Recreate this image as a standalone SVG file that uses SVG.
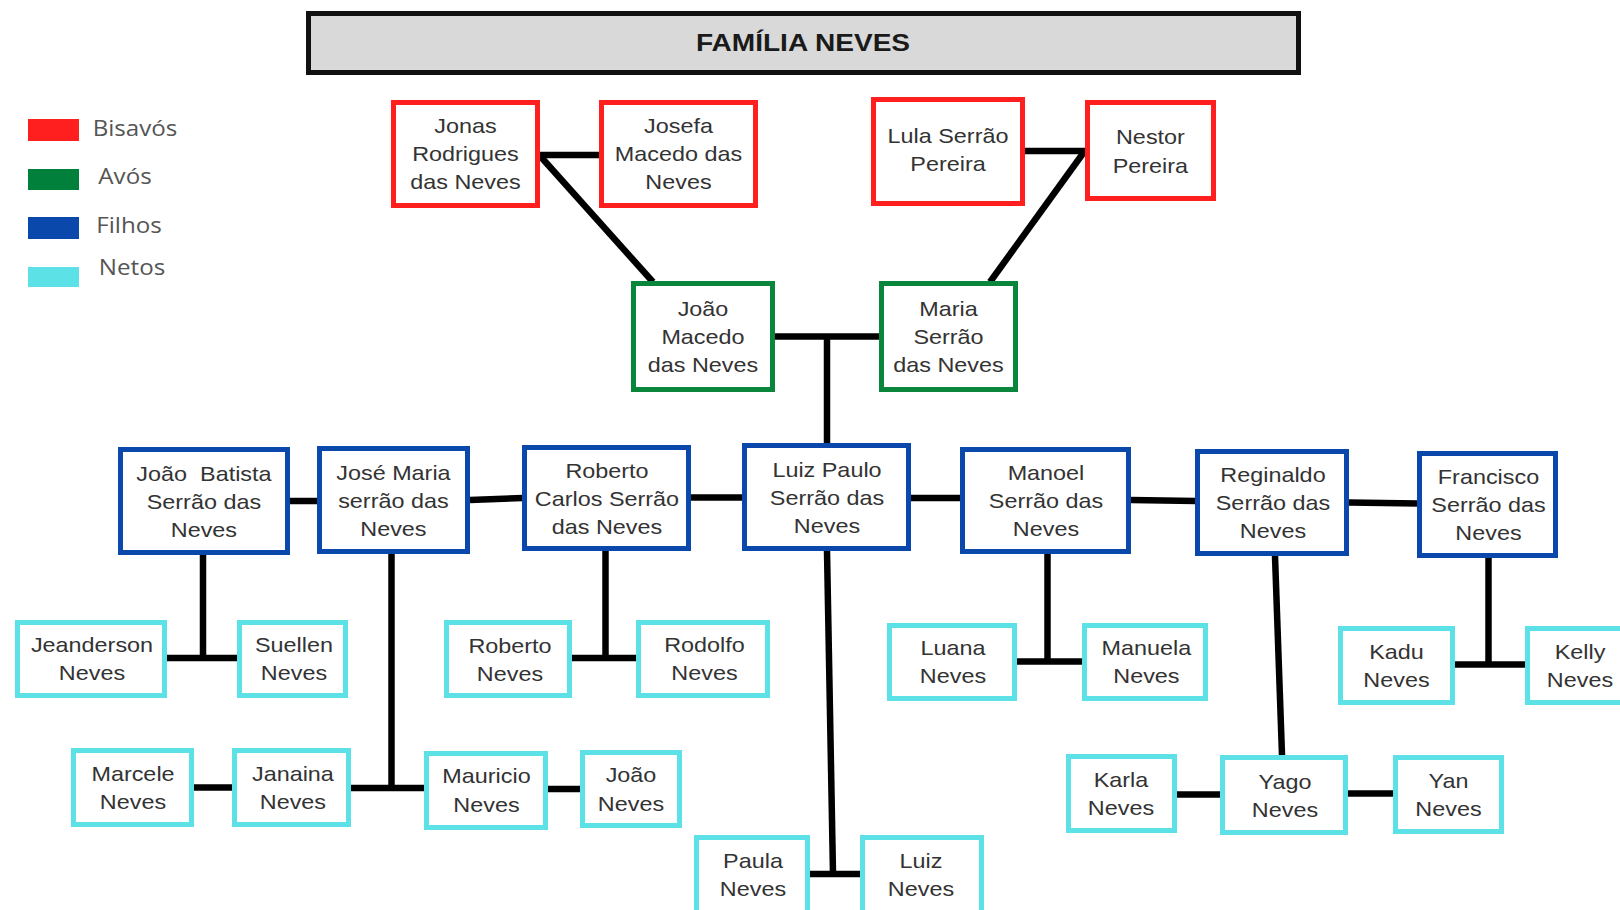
<svg xmlns="http://www.w3.org/2000/svg" width="1620" height="910" viewBox="0 0 1620 910">
<style>
.box{fill:#fff;stroke-width:5}
.red{stroke:#ff1f1f}
.green{stroke:#0a853c}
.blue{stroke:#0a48ab}
.cyan{stroke:#5ce1e6}
.t{font-family:"Liberation Sans",Arial,sans-serif;font-size:20px;fill:#333;text-anchor:middle;transform-box:fill-box;transform-origin:center;transform:scaleX(1.17)}
.title{font-family:"Liberation Sans",Arial,sans-serif;font-size:24px;font-weight:bold;fill:#1a1a1a;text-anchor:middle;transform-box:fill-box;transform-origin:center;transform:scaleX(1.17)}
.lg{font-family:"Open Sans","DejaVu Sans",sans-serif;font-size:21px;fill:#555;text-anchor:middle;transform-box:fill-box;transform-origin:center;transform:scaleX(1.15)}
.conn path{fill:none;stroke:#000;stroke-width:6.5}
</style>
<rect width="1620" height="910" fill="#fff"/>
<g id="title">
<rect x="308.5" y="13.5" width="990" height="59" fill="#d9d9d9" stroke="#111" stroke-width="5"/>
<text class="title" x="803" y="51">FAMÍLIA NEVES</text>
</g>
<g id="legend">
<rect x="28" y="119" width="51" height="22" fill="#ff1f1f"/>
<rect x="28" y="169" width="51" height="21" fill="#00803a"/>
<rect x="28" y="217" width="51" height="22" fill="#0a48ab"/>
<rect x="28" y="267" width="51" height="20" fill="#5ce1e6"/>
<text class="lg" x="135" y="136">Bisavós</text>
<text class="lg" x="125" y="184">Avós</text>
<text class="lg" x="129" y="233">Filhos</text>
<text class="lg" x="132" y="275">Netos</text>
</g>
<g class="conn" id="connectors">
<path d="M540,155 H601"/>
<path d="M541,157 L653,282"/>
<path d="M1025,151 H1086"/>
<path d="M1084,152 L990,282"/>
<path d="M775,336.5 H880"/>
<path d="M827,336.5 V444"/>
<path d="M290,501 H318"/>
<path d="M470,500 L523,498"/>
<path d="M691,497.5 H743"/>
<path d="M911,498 H961"/>
<path d="M1131,500 L1196,501"/>
<path d="M1349,502.5 L1418,503.5"/>
<path d="M203,555 V658"/>
<path d="M167,658 H238"/>
<path d="M391.5,554 V788"/>
<path d="M351,788 H425"/>
<path d="M194,787.5 H233"/>
<path d="M548,789 H581"/>
<path d="M605.5,551 V658"/>
<path d="M572,658 H637"/>
<path d="M827,551 L833,874"/>
<path d="M810,874 H861"/>
<path d="M1047.5,554 V661.5"/>
<path d="M1017,661.5 H1083"/>
<path d="M1275,556 L1282,755"/>
<path d="M1177,794.5 H1221"/>
<path d="M1348,793.5 H1394"/>
<path d="M1488.5,558 V664.5"/>
<path d="M1455,664.5 H1526"/>
</g>
<g id="jonas"><rect class="box red" x="393.5" y="102.5" width="144" height="103"/><text class="t"><tspan x="465.5" y="133.5">Jonas</tspan><tspan x="465.5" y="161.5">Rodrigues</tspan><tspan x="465.5" y="189.5">das Neves</tspan></text></g>
<g id="josefa"><rect class="box red" x="601.5" y="102.5" width="154" height="103"/><text class="t"><tspan x="678.5" y="133.5">Josefa</tspan><tspan x="678.5" y="161.5">Macedo das</tspan><tspan x="678.5" y="189.5">Neves</tspan></text></g>
<g id="lula"><rect class="box red" x="873.5" y="99.5" width="149" height="104"/><text class="t"><tspan x="948" y="143">Lula Serrão</tspan><tspan x="948" y="171.5">Pereira</tspan></text></g>
<g id="nestor"><rect class="box red" x="1087.5" y="102.5" width="126" height="96"/><text class="t"><tspan x="1150.5" y="144.5">Nestor</tspan><tspan x="1150.5" y="173">Pereira</tspan></text></g>
<g id="joao-macedo"><rect class="box green" x="633.5" y="283.5" width="139" height="106"/><text class="t"><tspan x="703" y="316">João</tspan><tspan x="703" y="344">Macedo</tspan><tspan x="703" y="372">das Neves</tspan></text></g>
<g id="maria"><rect class="box green" x="881.5" y="283.5" width="134" height="106"/><text class="t"><tspan x="948.5" y="316">Maria</tspan><tspan x="948.5" y="344">Serrão</tspan><tspan x="948.5" y="372">das Neves</tspan></text></g>
<g id="joao-batista"><rect class="box blue" x="120.5" y="449.5" width="167" height="103"/><text class="t" xml:space="preserve"><tspan x="204" y="481">João  Batista</tspan><tspan x="204" y="509">Serrão das</tspan><tspan x="204" y="537">Neves</tspan></text></g>
<g id="jose-maria"><rect class="box blue" x="319.5" y="448.5" width="148" height="103"/><text class="t"><tspan x="393.5" y="480">José Maria</tspan><tspan x="393.5" y="508">serrão das</tspan><tspan x="393.5" y="536">Neves</tspan></text></g>
<g id="roberto-carlos"><rect class="box blue" x="524.5" y="447.5" width="164" height="101"/><text class="t"><tspan x="607" y="478">Roberto</tspan><tspan x="607" y="506">Carlos Serrão</tspan><tspan x="607" y="534">das Neves</tspan></text></g>
<g id="luiz-paulo"><rect class="box blue" x="744.5" y="445.5" width="164" height="103"/><text class="t"><tspan x="827" y="477">Luiz Paulo</tspan><tspan x="827" y="505">Serrão das</tspan><tspan x="827" y="533">Neves</tspan></text></g>
<g id="manoel"><rect class="box blue" x="962.5" y="449.5" width="166" height="102"/><text class="t"><tspan x="1046" y="480">Manoel</tspan><tspan x="1046" y="508">Serrão das</tspan><tspan x="1046" y="536">Neves</tspan></text></g>
<g id="reginaldo"><rect class="box blue" x="1197.5" y="451.5" width="149" height="102"/><text class="t"><tspan x="1273" y="482">Reginaldo</tspan><tspan x="1273" y="510">Serrão das</tspan><tspan x="1273" y="538">Neves</tspan></text></g>
<g id="francisco"><rect class="box blue" x="1419.5" y="453.5" width="136" height="102"/><text class="t"><tspan x="1488.5" y="484.5">Francisco</tspan><tspan x="1488.5" y="512.5">Serrão das</tspan><tspan x="1488.5" y="540.5">Neves</tspan></text></g>
<g id="jeanderson"><rect class="box cyan" x="17.5" y="622.5" width="147" height="73"/><text class="t"><tspan x="92" y="652">Jeanderson</tspan><tspan x="92" y="680">Neves</tspan></text></g>
<g id="suellen"><rect class="box cyan" x="239.5" y="622.5" width="106" height="73"/><text class="t"><tspan x="294" y="652">Suellen</tspan><tspan x="294" y="680">Neves</tspan></text></g>
<g id="roberto-neves"><rect class="box cyan" x="446.5" y="622.5" width="123" height="73"/><text class="t"><tspan x="510" y="653">Roberto</tspan><tspan x="510" y="681">Neves</tspan></text></g>
<g id="rodolfo"><rect class="box cyan" x="638.5" y="622.5" width="129" height="73"/><text class="t"><tspan x="704.5" y="652">Rodolfo</tspan><tspan x="704.5" y="680">Neves</tspan></text></g>
<g id="luana"><rect class="box cyan" x="889.5" y="625.5" width="125" height="73"/><text class="t"><tspan x="953" y="655">Luana</tspan><tspan x="953" y="683">Neves</tspan></text></g>
<g id="manuela"><rect class="box cyan" x="1084.5" y="625.5" width="121" height="73"/><text class="t"><tspan x="1146.5" y="655">Manuela</tspan><tspan x="1146.5" y="683">Neves</tspan></text></g>
<g id="kadu"><rect class="box cyan" x="1340.5" y="628.5" width="112" height="74"/><text class="t"><tspan x="1396.5" y="659">Kadu</tspan><tspan x="1396.5" y="687">Neves</tspan></text></g>
<g id="kelly"><rect class="box cyan" x="1527.5" y="628.5" width="112" height="74"/><text class="t"><tspan x="1580" y="659">Kelly</tspan><tspan x="1580" y="687">Neves</tspan></text></g>
<g id="marcele"><rect class="box cyan" x="73.5" y="750.5" width="118" height="74"/><text class="t"><tspan x="133" y="781">Marcele</tspan><tspan x="133" y="809">Neves</tspan></text></g>
<g id="janaina"><rect class="box cyan" x="234.5" y="750.5" width="114" height="74"/><text class="t"><tspan x="293" y="781">Janaina</tspan><tspan x="293" y="809">Neves</tspan></text></g>
<g id="mauricio"><rect class="box cyan" x="426.5" y="753.5" width="119" height="74"/><text class="t"><tspan x="486.5" y="783">Mauricio</tspan><tspan x="486.5" y="812">Neves</tspan></text></g>
<g id="joao-neves"><rect class="box cyan" x="582.5" y="752.5" width="97" height="73"/><text class="t"><tspan x="631" y="782">João</tspan><tspan x="631" y="811">Neves</tspan></text></g>
<g id="karla"><rect class="box cyan" x="1068.5" y="756.5" width="106" height="74"/><text class="t"><tspan x="1121" y="787">Karla</tspan><tspan x="1121" y="815">Neves</tspan></text></g>
<g id="yago"><rect class="box cyan" x="1222.5" y="757.5" width="123" height="75"/><text class="t"><tspan x="1285" y="789">Yago</tspan><tspan x="1285" y="817">Neves</tspan></text></g>
<g id="yan"><rect class="box cyan" x="1395.5" y="757.5" width="106" height="74"/><text class="t"><tspan x="1448.5" y="788">Yan</tspan><tspan x="1448.5" y="816">Neves</tspan></text></g>
<g id="paula"><rect class="box cyan" x="696.5" y="837.5" width="111" height="80"/><text class="t"><tspan x="753" y="868">Paula</tspan><tspan x="753" y="896">Neves</tspan></text></g>
<g id="luiz-neves"><rect class="box cyan" x="862.5" y="837.5" width="119" height="80"/><text class="t"><tspan x="921" y="868">Luiz</tspan><tspan x="921" y="896">Neves</tspan></text></g>
</svg>
